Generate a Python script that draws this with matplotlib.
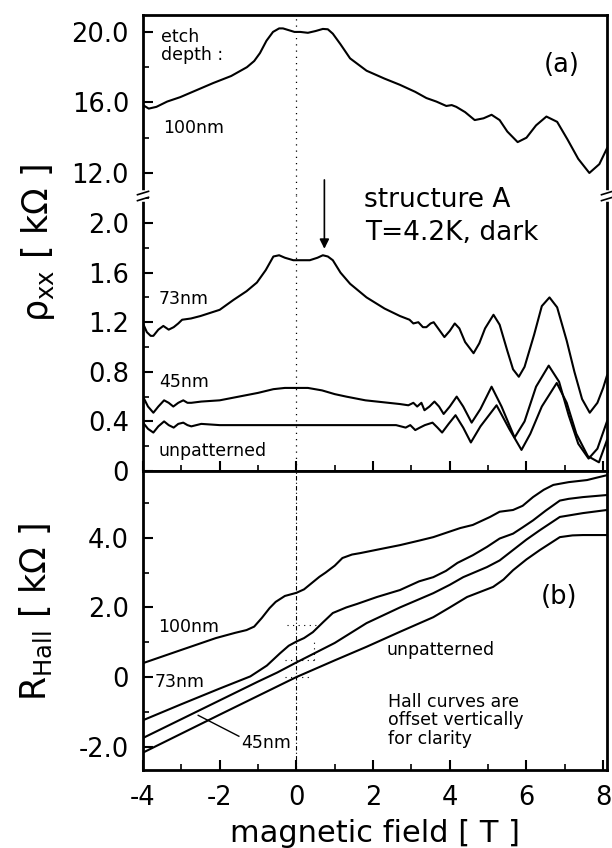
import matplotlib
matplotlib.use("Agg")
import matplotlib.pyplot as plt
from matplotlib.lines import Line2D
from matplotlib.ticker import MultipleLocator

plt.rcParams['font.family'] = ['DejaVu Sans']
plt.rcParams['mathtext.default'] = 'regular'

# ---- panel (a): rho_xx, upper (broken) section, 100nm etch ----
rho100_x = [-4.0, -3.85, -3.65, -3.37, -3.03, -2.6, -2.17, -1.7, -1.29, -1.1, -0.95, -0.78,
            -0.61, -0.45, -0.35, -0.2, -0.05, 0.1, 0.3, 0.5, 0.69, 0.82, 0.95, 1.15, 1.4,
            1.83, 2.3, 2.7, 3.1, 3.39, 3.65, 3.91, 4.05, 4.17, 4.4, 4.65, 4.88, 5.09, 5.3,
            5.5, 5.77, 6.0, 6.25, 6.52, 6.8, 7.07, 7.35, 7.64, 7.9, 8.1]
rho100 = [15.85, 15.65, 15.75, 16.05, 16.3, 16.7, 17.1, 17.5, 18.0, 18.35, 18.8, 19.5,
          20.0, 20.2, 20.2, 20.1, 20.0, 20.0, 19.95, 20.05, 20.17, 20.15, 19.9, 19.3, 18.5,
          17.8, 17.35, 17.0, 16.6, 16.25, 16.05, 15.8, 15.85, 15.75, 15.45, 15.0, 15.1, 15.3,
          15.0, 14.35, 13.75, 14.0, 14.7, 15.2, 14.9, 13.9, 12.8, 12.0, 12.5, 13.4]

# ---- panel (a): lower section ----
rho73_x = [-4.0, -3.9, -3.8, -3.73, -3.6, -3.47, -3.33, -3.2, -3.08, -2.98, -2.75, -2.5,
           -2.0, -1.64, -1.3, -1.03, -0.8, -0.6, -0.45, -0.3, -0.08, 0.15, 0.35, 0.55, 0.69,
           0.82, 0.95, 1.15, 1.4, 1.83, 2.3, 2.7, 2.95, 3.05, 3.18, 3.3, 3.39, 3.5, 3.58,
           3.72, 3.86, 4.0, 4.13, 4.25, 4.4, 4.62, 4.77, 4.92, 5.14, 5.3, 5.5, 5.65, 5.8,
           5.95, 6.2, 6.4, 6.6, 6.8, 7.05, 7.25, 7.45, 7.65, 7.85, 8.0, 8.1]
rho73 = [1.19, 1.12, 1.09, 1.09, 1.14, 1.17, 1.14, 1.16, 1.19, 1.22, 1.23, 1.25,
         1.30, 1.38, 1.45, 1.52, 1.62, 1.73, 1.74, 1.72, 1.70, 1.70, 1.70, 1.72, 1.74,
         1.73, 1.70, 1.60, 1.51, 1.40, 1.31, 1.25, 1.22, 1.19, 1.20, 1.16, 1.16, 1.19, 1.20,
         1.14, 1.08, 1.13, 1.19, 1.15, 1.04, 0.95, 1.03, 1.15, 1.26, 1.18, 0.97, 0.82, 0.76,
         0.84, 1.10, 1.33, 1.40, 1.32, 1.05, 0.80, 0.58, 0.47, 0.55, 0.67, 0.77]

rho45_x = [-4.0, -3.87, -3.73, -3.6, -3.45, -3.33, -3.21, -3.08, -2.95, -2.84, -2.74, -2.48,
           -2.0, -1.5, -1.0, -0.6, -0.3, 0.0, 0.3, 0.67, 1.0, 1.3, 1.8, 2.4, 2.7, 2.92, 3.05,
           3.15, 3.26, 3.34, 3.47, 3.6, 3.72, 3.84, 4.0, 4.18, 4.35, 4.57, 4.8, 5.09, 5.35,
           5.69, 5.95, 6.25, 6.58, 6.85, 7.1, 7.35, 7.62, 7.85, 8.1]
rho45 = [0.60, 0.52, 0.47, 0.52, 0.57, 0.55, 0.52, 0.55, 0.57, 0.55, 0.55, 0.56,
         0.57, 0.60, 0.63, 0.66, 0.67, 0.67, 0.67, 0.65, 0.62, 0.60, 0.57, 0.55, 0.54, 0.53,
         0.55, 0.52, 0.55, 0.49, 0.52, 0.56, 0.52, 0.46, 0.52, 0.60, 0.52, 0.39, 0.50, 0.68,
         0.52, 0.27, 0.40, 0.68, 0.85, 0.72, 0.45, 0.22, 0.10, 0.18, 0.40]

rho0_x = [-4.0, -3.87, -3.73, -3.6, -3.45, -3.33, -3.2, -3.08, -2.95, -2.84, -2.74, -2.48,
          -2.0, -1.0, 0.0, 1.0, 2.0, 2.6, 2.85, 2.97, 3.1, 3.22, 3.35, 3.55, 3.68, 3.8,
          3.97, 4.15, 4.35, 4.55, 4.8, 5.22, 5.55, 5.87, 6.1, 6.4, 6.79, 7.05, 7.3, 7.6,
          7.89, 8.1]
rho0 = [0.39, 0.34, 0.31, 0.36, 0.40, 0.37, 0.35, 0.38, 0.39, 0.37, 0.36, 0.38,
        0.37, 0.37, 0.37, 0.37, 0.37, 0.37, 0.35, 0.37, 0.33, 0.35, 0.37, 0.39, 0.35, 0.31,
        0.38, 0.45, 0.35, 0.23, 0.36, 0.53, 0.34, 0.17, 0.30, 0.52, 0.71, 0.55, 0.30, 0.12,
        0.07, 0.25]

# ---- panel (b): Hall resistance (offset vertically) ----
hall100_x = [-4.0, -3.0, -2.1, -1.6, -1.3, -1.1, -0.9, -0.7, -0.54, -0.3, 0.0, 0.2, 0.4,
             0.6, 0.76, 1.0, 1.2, 1.45, 1.66, 2.2, 2.7, 3.2, 3.57, 4.0, 4.27, 4.6, 5.05,
             5.3, 5.65, 5.9, 6.17, 6.45, 6.7, 7.1, 7.58, 7.8, 8.1]
hall100 = [0.40, 0.78, 1.12, 1.27, 1.35, 1.45, 1.70, 1.98, 2.16, 2.33, 2.42, 2.52, 2.70,
           2.88, 3.0, 3.2, 3.42, 3.52, 3.56, 3.68, 3.79, 3.92, 4.02, 4.18, 4.28, 4.37, 4.6,
           4.75, 4.8, 4.92, 5.17, 5.38, 5.52, 5.6, 5.66, 5.72, 5.8]

hall73_x = [-4.0, -3.0, -2.0, -1.2, -0.77, -0.43, -0.2, 0.0, 0.2, 0.43, 0.7, 0.95, 1.3,
            1.58, 2.1, 2.7, 3.2, 3.57, 3.9, 4.2, 4.6, 4.97, 5.3, 5.65, 5.9, 6.17, 6.5,
            6.87, 7.1, 7.47, 8.1]
hall73 = [-1.24, -0.78, -0.33, 0.02, 0.33, 0.68, 0.9, 1.02, 1.12, 1.29, 1.58, 1.84, 2.0,
          2.1, 2.3, 2.5, 2.75, 2.87, 3.05, 3.28, 3.5, 3.74, 3.98, 4.12, 4.3, 4.5, 4.78,
          5.07, 5.12, 5.17, 5.23]

hall45_x = [-4.0, -3.0, -2.0, -1.0, -0.5, 0.0, 0.5, 1.0, 1.83, 2.7, 3.57, 4.0, 4.35, 4.97,
            5.3, 5.65, 6.0, 6.35, 6.87, 7.47, 8.1]
hall45 = [-1.75, -1.21, -0.67, -0.13, 0.13, 0.42, 0.7, 0.98, 1.55, 2.0, 2.41, 2.65, 2.87,
          3.16, 3.35, 3.65, 3.95, 4.22, 4.6, 4.71, 4.8]

hall0_x = [-4.0, -2.0, 0.0, 1.0, 1.83, 2.7, 3.57, 4.0, 4.45, 5.13, 5.4, 5.65, 6.0, 6.35,
           6.87, 7.2, 7.47, 8.1]
hall0 = [-2.17, -1.08, 0.0, 0.48, 0.87, 1.3, 1.72, 2.0, 2.3, 2.59, 2.8, 3.07, 3.38, 3.65,
         4.02, 4.07, 4.08, 4.08]

upper_ticks = [12.0, 16.0, 20.0]
lower_ticks = [0, 0.4, 0.8, 1.2, 1.6, 2.0]
lower_labels = ['0', '0.4', '0.8', '1.2', '1.6', '2.0']
hall_ticks = [-2.0, 0, 2.0, 4.0]
hall_labels = ['-2.0', '0', '2.0', '4.0']
x_ticks = [-4, -2, 0, 2, 4, 6, 8]

fig = plt.figure(figsize=(6.12, 8.48), dpi=100)
L, W = 143 / 612, 464 / 612
ax_top = fig.add_axes([L, 1 - 195 / 848, W, 180 / 848])
ax_mid = fig.add_axes([L, 1 - 471 / 848, W, 276 / 848])
ax_bot = fig.add_axes([L, 1 - 770 / 848, W, 299 / 848])

lw_curve = 1.5
tick_fs = 18.5
xmin, xmax = -4.0, 8.1

for ax in (ax_top, ax_mid, ax_bot):
    ax.set_xlim(xmin, xmax)
    for s in ax.spines.values():
        s.set_linewidth(2)
    ax.tick_params(which='major', direction='in', length=7, width=1.5,
                   labelsize=tick_fs, pad=10, right=False, top=False)
    ax.tick_params(which='minor', direction='in', length=4, width=1.2,
                   right=False, top=False)

ax_top.axvline(0, color='k', lw=0.9, ls=(0, (1, 4)), zorder=1)
ax_mid.axvline(0, color='k', lw=0.9, ls=(0, (1, 4)), zorder=1)
ax_bot.axvline(0, color='k', lw=0.8, ls=(0, (4, 2, 1, 2)), zorder=1)

# upper section
ax_top.plot(rho100_x, rho100, color='k', lw=lw_curve)
ax_top.set_ylim(10.75, 20.96)
ax_top.set_yticks(upper_ticks)
ax_top.set_yticklabels(['12.0', '16.0', '20.0'])
ax_top.yaxis.set_minor_locator(MultipleLocator(2))
ax_top.spines['bottom'].set_visible(False)
ax_top.tick_params(which='both', bottom=False, labelbottom=False)

# lower section
for xs, ys in ((rho73_x, rho73), (rho45_x, rho45), (rho0_x, rho0)):
    ax_mid.plot(xs, ys, color='k', lw=lw_curve)
ax_mid.set_ylim(0, 2.226)
ax_mid.set_yticks(lower_ticks)
ax_mid.set_yticklabels(lower_labels)
ax_mid.yaxis.set_minor_locator(MultipleLocator(0.2))
ax_mid.set_xticks(x_ticks)
ax_mid.xaxis.set_minor_locator(MultipleLocator(1))
ax_mid.tick_params(which='both', labelbottom=False)
ax_mid.spines['top'].set_visible(False)

# Hall panel
for xs, ys in ((hall100_x, hall100), (hall73_x, hall73), (hall45_x, hall45), (hall0_x, hall0)):
    ax_bot.plot(xs, ys, color='k', lw=lw_curve)
ax_bot.set_ylim(-2.67, 5.92)
ax_bot.set_yticks(hall_ticks)
ax_bot.set_yticklabels(hall_labels)
ax_bot.yaxis.set_minor_locator(MultipleLocator(1))
ax_bot.set_xticks(x_ticks)
ax_bot.set_xticklabels([str(t) for t in x_ticks])
ax_bot.xaxis.set_minor_locator(MultipleLocator(1))
ax_bot.tick_params(axis='x', pad=11)

# dotted guide marks near B = 0 in the Hall panel
for yv, x0, x1 in ((1.49, -0.25, 0.55), (0.49, -0.3, 0.55), (0.0, -0.3, 0.35)):
    ax_bot.plot([x0, x1], [yv, yv], color='k', lw=0.8, ls=(0, (1, 4)))
ax_bot.plot([0.47, 0.47], [0.49, 1.06], color='k', lw=0.8, ls=(0, (1, 4)))

# axis break marks
yb = 1 - 196 / 848
for xf in (L, L + W):
    fig.add_artist(Line2D([xf, xf], [yb - 0.004, yb + 0.004], color='white', lw=4))
    for dy in (-0.0035, 0.0035):
        fig.add_artist(Line2D([xf - 0.009, xf + 0.009], [yb + dy - 0.002, yb + dy + 0.002],
                              color='k', lw=1.2))

# labels
small = 12.5
ax_top.text(-3.52, 20.25, 'etch\ndepth :', fontsize=small, va='top', linespacing=1.0)
ax_top.text(-3.47, 14.27, '100nm', fontsize=small, va='baseline')
ax_top.text(6.92, 18.1, '(a)', fontsize=18.5, ha='center', va='center')
ax_mid.text(1.76, 2.13, 'structure A', fontsize=19, va='baseline')
ax_mid.text(1.78, 1.86, 'T=4.2K, dark', fontsize=19, va='baseline')
ax_mid.annotate('', xy=(0.73, 1.77), xytext=(0.73, 2.37), annotation_clip=False,
                arrowprops=dict(arrowstyle='-|>', color='k', lw=1.2, mutation_scale=14))
ax_mid.text(-3.58, 1.35, '73nm', fontsize=small, va='baseline')
ax_mid.text(-3.58, 0.68, '45nm', fontsize=small, va='baseline')
ax_mid.text(-3.6, 0.12, 'unpatterned', fontsize=small, va='baseline')

ax_bot.text(-3.6, 1.29, '100nm', fontsize=small, va='baseline')
ax_bot.text(-3.7, -0.29, '73nm', fontsize=small, va='baseline')
ax_bot.text(-1.44, -2.05, '45nm', fontsize=small, va='baseline')
ax_bot.plot([-2.56, -1.5], [-1.1, -1.7], color='k', lw=1.0)
ax_bot.text(2.35, 0.63, 'unpatterned', fontsize=small, va='baseline')
ax_bot.text(6.84, 2.3, '(b)', fontsize=18.5, ha='center', va='center')
ax_bot.text(2.4, -0.45, 'Hall curves are\noffset vertically\nfor clarity', fontsize=small,
            va='top', linespacing=1.05)

fig.text(38 / 612, 1 - 243 / 848, 'ρ$_{xx}$ [ kΩ ]', rotation=90, fontsize=25,
         ha='center', va='center')
fig.text(36 / 612, 1 - 612 / 848, 'R$_{Hall}$ [ kΩ ]', rotation=90, fontsize=25,
         ha='center', va='center')
fig.text(375 / 612, 1 - 833 / 848, 'magnetic field [ T ]', fontsize=22,
         ha='center', va='center')

fig.savefig('out.png', dpi=100)
